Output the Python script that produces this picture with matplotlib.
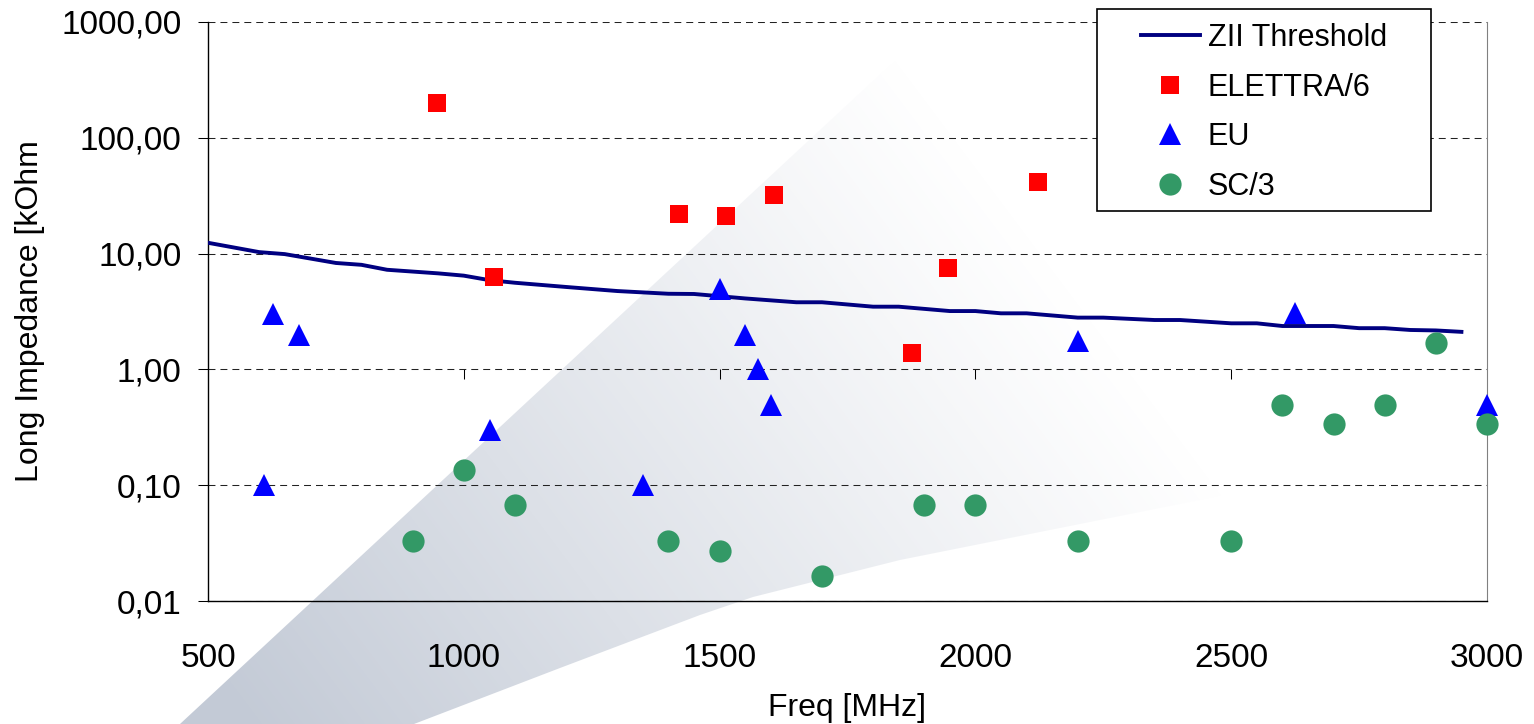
import numpy as np
import matplotlib
matplotlib.use('Agg')
import matplotlib.pyplot as plt
from matplotlib.patches import Polygon, Rectangle
from matplotlib.ticker import FixedLocator, FixedFormatter, NullLocator

plt.rcParams['font.family'] = ['Liberation Sans', 'DejaVu Sans']
plt.rcParams['lines.scale_dashes'] = False

# ZII threshold curve
thr_freq = [500, 600, 650, 750, 800, 850, 950, 1000, 1050, 1100, 1200, 1300, 1400, 1450,
            1550, 1650, 1700, 1800, 1850, 1950, 2000, 2050, 2100, 2200, 2250, 2350, 2400,
            2500, 2550, 2600, 2700, 2750, 2800, 2850, 2900, 2950]
thr_val = [12.4, 10.3, 9.9, 8.3, 8.0, 7.25, 6.75, 6.45, 5.9, 5.6, 5.15, 4.75, 4.5, 4.48,
           4.1, 3.8, 3.8, 3.48, 3.48, 3.19, 3.19, 3.05, 3.05, 2.8, 2.8, 2.67, 2.67,
           2.5, 2.5, 2.37, 2.37, 2.27, 2.27, 2.19, 2.17, 2.11]

elettra_freq = [947, 1060, 1420, 1513, 1607, 1877, 1947, 2122]
elettra_val = [198, 6.3, 21.8, 21.0, 32.1, 1.39, 7.55, 41.3]

eu_freq = [610, 628, 677, 1051, 1350, 1501, 1550, 1575, 1600, 2200, 2625, 3000]
eu_val = [0.1, 3.0, 2.0, 0.3, 0.1, 4.95, 2.0, 1.0, 0.49, 1.75, 3.1, 0.49]

sc_freq = [900, 1000, 1100, 1400, 1500, 1700, 1900, 2000, 2200, 2500, 2600, 2700, 2800, 2900, 3000]
sc_val = [0.033, 0.135, 0.067, 0.033, 0.027, 0.0165, 0.067, 0.067, 0.033, 0.033, 0.49, 0.335, 0.49, 1.7, 0.335]

y_ticks = [0.01, 0.1, 1, 10, 100, 1000]
y_labels = ['0,01', '0,10', '1,00', '10,00', '100,00', '1000,00']
x_ticks = [500, 1000, 1500, 2000, 2500, 3000]
labels = ['ZII Threshold', 'ELETTRA/6', 'EU', 'SC/3']

W, H = 1534, 724
fig = plt.figure(figsize=(W / 100, H / 100), dpi=100)

# decorative grey wedge behind the chart (figure pixels)
bg = fig.add_axes([0, 0, 1, 1], zorder=-1)
bg.set_xlim(0, W)
bg.set_ylim(H, 0)
bg.axis('off')
xx, yy = np.meshgrid(np.arange(W), np.arange(H))
t = ((xx - 250) * 0.8 - (yy - H) * 0.6) / 920.0
rgba = np.zeros((H, W, 4))
rgba[..., 0] = 195 / 255
rgba[..., 1] = 202 / 255
rgba[..., 2] = 214 / 255
rgba[..., 3] = np.clip(1 - t, 0, 1) ** 1.1
im = bg.imshow(rgba, extent=(0, W, H, 0), interpolation='bilinear', aspect='auto')
wedge_pts = [(180, 724), (960, 0), (1534, 0), (1534, 440), (1300, 480), (1100, 520),
             (900, 560), (753, 597), (700, 615), (560, 668), (414, 724)]
wedge = Polygon(wedge_pts, closed=True, transform=bg.transData, fc='none', ec='none')
bg.add_patch(wedge)
im.set_clip_path(wedge)

ax = fig.add_axes([208 / W, 1 - 601 / H, (1487 - 208) / W, (601 - 22) / H])
ax.set_facecolor('none')

h1, = ax.plot(thr_freq, thr_val, color='#000080', lw=2.8, zorder=3)
h2, = ax.plot(elettra_freq, elettra_val, 's', color='#FF0000', ms=13.5, mew=0, ls='none',
              clip_on=False, zorder=4)
h3, = ax.plot(eu_freq, eu_val, '^', color='#0000FF', ms=16, mew=0, ls='none',
              clip_on=False, zorder=5)
h4, = ax.plot(sc_freq, sc_val, 'o', color='#339966', ms=16, mew=0, ls='none',
              clip_on=False, zorder=6)

ax.set_yscale('log')
ax.set_ylim(0.01, 1000)
ax.set_xlim(500, 3000)
ax.yaxis.set_major_locator(FixedLocator(y_ticks))
ax.yaxis.set_major_formatter(FixedFormatter(y_labels))
ax.yaxis.set_minor_locator(NullLocator())
ax.xaxis.set_major_locator(FixedLocator(x_ticks))
ax.xaxis.set_major_formatter(FixedFormatter([str(v) for v in x_ticks]))

ax.grid(axis='y', color='#222222', lw=0.75, ls=(0, (5, 3.6)))
ax.tick_params(axis='y', direction='out', length=7, width=0.75, pad=12, labelsize=24)
ax.tick_params(axis='x', length=0, pad=30, labelsize=24)
ax.spines['top'].set_visible(False)
ax.spines['right'].set_color('#808080')
ax.spines['left'].set_linewidth(1)
ax.spines['bottom'].set_linewidth(1)

# small category ticks where the x axis crosses at 1,00
lo, hi = ax.get_ylim()
cross = (np.log10(1) - np.log10(lo)) / (np.log10(hi) - np.log10(lo))
sec = ax.secondary_xaxis(cross)
sec.set_xticks(x_ticks[1:-1])
sec.tick_params(direction='out', length=7, width=0.75, labelbottom=False, labeltop=False)
for s in sec.spines.values():
    s.set_visible(False)

ax.set_xlabel('Freq [MHz]', fontsize=23, labelpad=14)
ax.set_ylabel('Long Impedance [kOhm', fontsize=23, labelpad=12)

fig.add_artist(Rectangle((1097 / W, 1 - 211 / H), (1431 - 1097) / W, (211 - 9) / H,
                         transform=fig.transFigure, fc='white', ec='black', lw=1.2, zorder=1))
fig.legend([h1, h2, h3, h4], labels, loc='upper left', bbox_to_anchor=(1141 / W, 1 - 23 / H),
           frameon=False, fontsize=22, borderpad=0, borderaxespad=0, handlelength=1.93,
           handletextpad=0.25, labelspacing=0.64)

fig.savefig('out.png', dpi=100)
